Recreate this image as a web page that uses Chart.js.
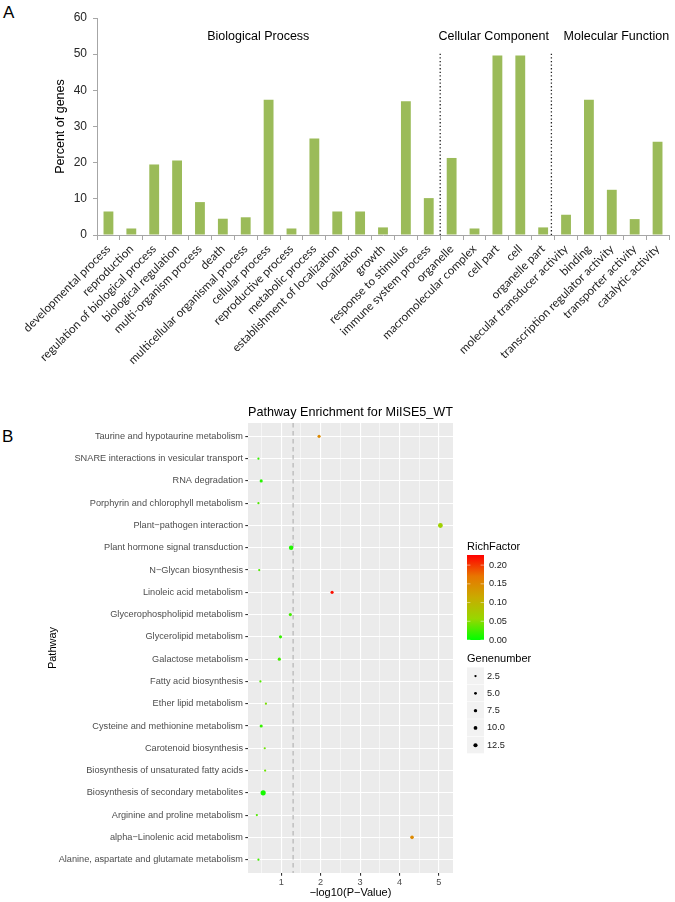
<!DOCTYPE html>
<html>
<head>
<meta charset="utf-8">
<script src="https://cdn.jsdelivr.net/npm/chart.js@4.4.0/dist/chart.umd.min.js"></script>
<style>
  body { margin: 0; background: #fff; width: 675px; height: 902px; position: relative; overflow: hidden; }
  #goChart { position: absolute; left: 0; top: 0; }
  #keggChart { position: absolute; left: 0; top: 380px; }
  .panel { position: absolute; font-family: "Liberation Sans", Arial, sans-serif; font-size: 17px; line-height: 1; color: #000; }
</style>
</head>
<body>
<div class="panel" style="left:3px;top:4px">A</div>
<div class="panel" style="left:2px;top:428px">B</div>
<canvas id="goChart" width="675" height="380"></canvas>
<canvas id="keggChart" width="675" height="522"></canvas>
<script>
// panel A - GO categories
const goTerms = ['developmental process', 'reproduction', 'regulation of biological process', 'biological regulation',
  'multi-organism process', 'death', 'multicellular organismal process', 'cellular process', 'reproductive process',
  'metabolic process', 'establishment of localization', 'localization', 'growth', 'response to stimulus',
  'immune system process', 'organelle', 'macromolecular complex', 'cell part', 'cell', 'organelle part',
  'molecular transducer activity', 'binding', 'transcription regulator activity', 'transporter activity', 'catalytic activity'];
const goPercent = [6.5, 1.8, 19.5, 20.6, 9.1, 4.5, 4.9, 37.4, 1.8, 26.7, 6.5, 6.5, 2.1, 37.0, 10.2,
  21.3, 1.8, 49.6, 49.6, 2.1, 5.6, 37.4, 12.5, 4.4, 25.8];
const sections = ['Biological Process', 'Cellular Component', 'Molecular Function'];
const sectionAt = [6.55, 16.84, 22.2];   // category index the heading is centred on
const dividers = [14.5, 19.36];

// panel B - KEGG enrichment
const pathways = ['Taurine and hypotaurine metabolism', 'SNARE interactions in vesicular transport', 'RNA degradation',
  'Porphyrin and chlorophyll metabolism', 'Plant\u2212pathogen interaction', 'Plant hormone signal transduction',
  'N\u2212Glycan biosynthesis', 'Linoleic acid metabolism', 'Glycerophospholipid metabolism', 'Glycerolipid metabolism',
  'Galactose metabolism', 'Fatty acid biosynthesis', 'Ether lipid metabolism', 'Cysteine and methionine metabolism',
  'Carotenoid biosynthesis', 'Biosynthesis of unsaturated fatty acids', 'Biosynthesis of secondary metabolites',
  'Arginine and proline metabolism', 'alpha\u2212Linolenic acid metabolism', 'Alanine, aspartate and glutamate metabolism'];
const logP = [1.96, 0.42, 0.49, 0.42, 5.04, 1.25, 0.44, 2.29, 1.23, 0.98,
  0.95, 0.47, 0.61, 0.49, 0.58, 0.59, 0.54, 0.38, 4.32, 0.42];
const richFactor = [0.15, 0.02, 0.015, 0.03, 0.065, 0.012, 0.03, 0.22, 0.025, 0.02,
  0.025, 0.03, 0.045, 0.02, 0.04, 0.04, 0.008, 0.03, 0.15, 0.025];
const geneNumber = [4, 1, 4, 1, 12, 10, 1, 4, 4, 4, 4, 1, 1, 4, 1, 1, 14, 1, 6, 1];
const cutoff = 1.3;
const richTicks = [0, 0.05, 0.1, 0.15, 0.2];
const geneTicks = [2.5, 5.0, 7.5, 10.0, 12.5];
const richMin = 0, richMax = 0.227;

Chart.defaults.font.family = '"Liberation Sans", Arial, sans-serif';

// green -> red, roughly the Lab path ggplot takes
const gradStops = [[0, 255, 0], [152, 215, 0], [201, 171, 0], [232, 118, 0], [255, 0, 0]];
function richColor(v) {
  let t = (v - richMin) / (richMax - richMin);
  t = Math.max(0, Math.min(1, t)) * (gradStops.length - 1);
  const i = Math.min(Math.floor(t), gradStops.length - 2), f = t - i;
  const c = gradStops[i].map((a, k) => Math.round(a + (gradStops[i + 1][k] - a) * f));
  return 'rgb(' + c.join(',') + ')';
}
function geneRadius(g) {
  return Math.sqrt(0.8 + 0.42 * g);
}

const goExtras = {
  id: 'goExtras',
  afterDatasetsDraw(chart) {
    const {ctx, scales: {x, y}} = chart;
    ctx.save();
    ctx.fillStyle = '#000';
    ctx.font = '12.5px "Liberation Sans", Arial, sans-serif';
    ctx.textAlign = 'center';
    ctx.textBaseline = 'middle';
    sections.forEach((s, i) => ctx.fillText(s, x.getPixelForValue(sectionAt[i]), y.getPixelForValue(55)));
    ctx.strokeStyle = '#222';
    ctx.lineWidth = 1.3;
    ctx.setLineDash([1.3, 2.3]);
    dividers.forEach(d => {
      const px = x.getPixelForValue(d);
      ctx.beginPath();
      ctx.moveTo(px, y.getPixelForValue(0));
      ctx.lineTo(px, y.getPixelForValue(50.5));
      ctx.stroke();
    });
    ctx.restore();
  }
};

new Chart('goChart', {
  type: 'bar',
  data: {
    labels: goTerms,
    datasets: [{
      data: goPercent,
      backgroundColor: '#9BBB59',
      barPercentage: 0.43,
      categoryPercentage: 1
    }]
  },
  options: {
    responsive: false,
    animation: false,
    layout: {padding: {left: 48, right: 6, top: 18, bottom: 0}},
    plugins: {legend: {display: false}, tooltip: {enabled: false}},
    scales: {
      x: {
        grid: {drawOnChartArea: false, tickLength: 5, color: '#A6A6A6'},
        border: {color: '#A6A6A6'},
        ticks: {
          autoSkip: false, minRotation: 45, maxRotation: 45, padding: 2,
          color: '#1F1F1F', font: {family: 'Lato, "Liberation Sans", sans-serif', size: 11.7}
        },
        afterFit(s) { s.height = 145; }
      },
      y: {
        min: 0, max: 60,
        ticks: {stepSize: 10, color: '#262626', padding: 6, font: {size: 12}},
        grid: {drawOnChartArea: false, tickLength: 4, color: '#A6A6A6'},
        border: {color: '#A6A6A6'},
        title: {display: true, text: 'Percent of genes', color: '#000', font: {size: 12.5}, padding: {top: 5, bottom: 4}},
        afterFit(s) { s.width = 49; }
      }
    }
  },
  plugins: [goExtras]
});

const panelBg = {
  id: 'panelBg',
  beforeDraw(chart) {
    const {ctx, chartArea: a} = chart;
    ctx.save();
    ctx.fillStyle = '#EBEBEB';
    ctx.fillRect(a.left, a.top, a.width, a.height);
    ctx.restore();
  },
  beforeDatasetsDraw(chart) {
    const {ctx, chartArea: a, scales: {x}} = chart;
    const px = x.getPixelForValue(cutoff);
    ctx.save();
    ctx.strokeStyle = '#A9A9A9';
    ctx.lineWidth = 1;
    ctx.setLineDash([4.5, 3.5]);
    ctx.beginPath();
    ctx.moveTo(px, a.top);
    ctx.lineTo(px, a.bottom);
    ctx.stroke();
    ctx.restore();
  }
};

const keggLegends = {
  id: 'keggLegends',
  afterDraw(chart) {
    const {ctx, chartArea: a} = chart;
    const lx = a.right + 14, w = 17;
    ctx.save();
    ctx.textAlign = 'left';
    ctx.textBaseline = 'middle';
    ctx.fillStyle = '#000';
    ctx.font = '11px "Liberation Sans", Arial, sans-serif';
    ctx.fillText('RichFactor', lx, 167);

    // colour bar
    const top = 175, h = 85;
    const grad = ctx.createLinearGradient(0, top + h, 0, top);
    gradStops.forEach((c, i) => grad.addColorStop(i / (gradStops.length - 1), 'rgb(' + c.join(',') + ')'));
    ctx.fillStyle = grad;
    ctx.fillRect(lx, top, w, h);
    ctx.font = '9.2px "Liberation Sans", Arial, sans-serif';
    richTicks.forEach(v => {
      const ty = top + h * (1 - (v - richMin) / (richMax - richMin));
      ctx.strokeStyle = 'rgba(255,255,255,0.8)';
      ctx.lineWidth = 0.6;
      ctx.beginPath();
      ctx.moveTo(lx, ty); ctx.lineTo(lx + 3.4, ty);
      ctx.moveTo(lx + w - 3.4, ty); ctx.lineTo(lx + w, ty);
      ctx.stroke();
      ctx.fillStyle = '#1A1A1A';
      ctx.fillText(v.toFixed(2), lx + 22, ty);
    });

    // size keys
    ctx.fillStyle = '#000';
    ctx.font = '11px "Liberation Sans", Arial, sans-serif';
    ctx.fillText('Genenumber', lx, 279);
    const kh = 17.3, ktop = 287.4;
    geneTicks.forEach((g, i) => {
      const ky = ktop + i * kh;
      ctx.fillStyle = '#F2F2F2';
      ctx.fillRect(lx, ky, w, kh - 0.6);
      ctx.fillStyle = '#000';
      ctx.beginPath();
      ctx.arc(lx + w / 2, ky + kh / 2, geneRadius(g) * 0.85, 0, Math.PI * 2);
      ctx.fill();
      ctx.fillStyle = '#1A1A1A';
      ctx.font = '9.2px "Liberation Sans", Arial, sans-serif';
      ctx.fillText(g.toFixed(1), lx + 20, ky + kh / 2);
    });
    ctx.restore();
  }
};

new Chart('keggChart', {
  type: 'scatter',
  data: {
    datasets: [{
      data: pathways.map((p, i) => ({x: logP[i], y: i})),
      pointRadius: c => geneRadius(geneNumber[c.dataIndex]),
      pointBackgroundColor: c => richColor(richFactor[c.dataIndex]),
      pointBorderWidth: 0
    }]
  },
  options: {
    responsive: false,
    animation: false,
    layout: {padding: {left: 42, right: 222, top: 0, bottom: 0}},
    plugins: {
      legend: {display: false},
      tooltip: {enabled: false},
      title: {
        display: true, text: 'Pathway Enrichment for MiISE5_WT', fullSize: false,
        color: '#000', font: {size: 13, weight: 'normal'}, padding: {top: 25, bottom: 2.4}
      }
    },
    scales: {
      x: {
        type: 'linear', min: 0.155, max: 5.36,
        ticks: {
          stepSize: 0.5, includeBounds: false, autoSkip: false, maxRotation: 0, padding: 1,
          color: '#4D4D4D', font: {size: 9.2},
          callback: v => Number.isInteger(v) ? v : ''
        },
        grid: {
          color: '#fff', tickLength: 2.7,
          lineWidth: c => Number.isInteger(c.tick.value) ? 1.1 : 0.55,
          tickColor: c => Number.isInteger(c.tick.value) ? '#333' : 'rgba(0,0,0,0)'
        },
        border: {display: false},
        title: {display: true, text: '\u2212log10(P\u2212Value)', color: '#000', font: {size: 11}, padding: {top: 2, bottom: 2}},
        afterFit(s) { s.height = 29; }
      },
      y: {
        type: 'linear', reverse: true, min: -0.6, max: 19.6,
        ticks: {
          stepSize: 1, includeBounds: false, autoSkip: false, padding: 2.3,
          color: '#4D4D4D', font: {size: 9.2},
          callback: v => pathways[v]
        },
        grid: {color: '#fff', lineWidth: 1.1, tickLength: 2.7, tickColor: '#333'},
        border: {display: false},
        title: {display: true, text: 'Pathway', color: '#000', font: {size: 11}, padding: {top: 4, bottom: 4}},
        afterFit(s) { s.width = 206; }
      }
    }
  },
  plugins: [panelBg, keggLegends]
});
</script>
</body>
</html>
